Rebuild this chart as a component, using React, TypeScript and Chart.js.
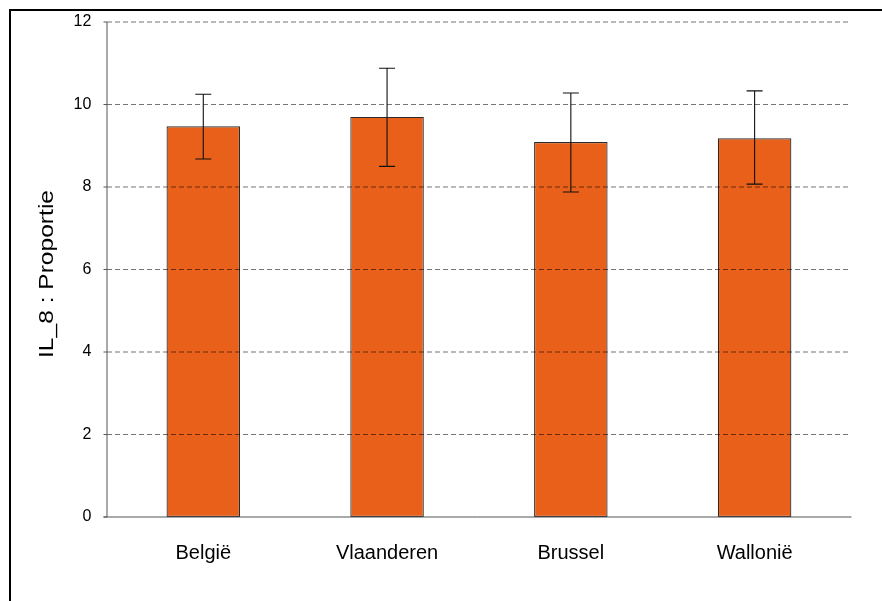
import React, { useEffect, useRef } from "react";
import { Chart, registerables } from "chart.js";

Chart.register(...registerables);

const categories = ["België", "Vlaanderen", "Brussel", "Wallonië"];
const values = [9.47, 9.7, 9.09, 9.18];
const errLow = [8.68, 8.5, 7.88, 8.07];
const errHigh = [10.25, 10.88, 10.28, 10.33];
const yTicks = [0, 2, 4, 6, 8, 10, 12];
const yTitle = "IL_8 : Proportie";

const FONT = "'Liberation Sans', Arial, Helvetica, sans-serif";

const decorPlugin = {
  id: "decor",
  afterDatasetsDraw(chart: any) {
    const ctx = chart.ctx;
    const xs = chart.scales.x;
    const ys = chart.scales.y;
    const axisX = 107;
    const gridRight = 848;
    const axisRight = 851.5;
    ctx.save();
    // grid lines (drawn over bars)
    ctx.strokeStyle = "rgba(0,0,0,0.55)";
    ctx.lineWidth = 1;
    ctx.setLineDash([5, 3]);
    yTicks.forEach((t) => {
      if (t === 0) return;
      const y = ys.getPixelForValue(t);
      ctx.beginPath();
      ctx.moveTo(axisX, y);
      ctx.lineTo(gridRight, y);
      ctx.stroke();
    });
    ctx.setLineDash([]);
    // error bars
    ctx.strokeStyle = "#111";
    ctx.lineWidth = 1.1;
    categories.forEach((_, i) => {
      const x = xs.getPixelForValue(i);
      const yl = ys.getPixelForValue(errLow[i]);
      const yh = ys.getPixelForValue(errHigh[i]);
      ctx.beginPath();
      ctx.moveTo(x, yl);
      ctx.lineTo(x, yh);
      ctx.moveTo(x - 8, yl);
      ctx.lineTo(x + 8, yl);
      ctx.moveTo(x - 8, yh);
      ctx.lineTo(x + 8, yh);
      ctx.stroke();
    });
    // axes
    ctx.strokeStyle = "#555";
    ctx.lineWidth = 1;
    const y0 = ys.getPixelForValue(0);
    const yTop = ys.getPixelForValue(12);
    ctx.beginPath();
    ctx.moveTo(axisX, yTop);
    ctx.lineTo(axisX, y0);
    ctx.moveTo(axisX - 3.5, y0);
    ctx.lineTo(axisRight, y0);
    yTicks.forEach((t) => {
      const y = ys.getPixelForValue(t);
      ctx.moveTo(axisX - 3.5, y);
      ctx.lineTo(axisX, y);
    });
    ctx.stroke();
    // y axis title
    ctx.fillStyle = "#000";
    ctx.font = "21px " + FONT;
    const w = ctx.measureText(yTitle).width;
    ctx.translate(53, 274);
    ctx.rotate(-Math.PI / 2);
    ctx.scale(168 / w, 1);
    ctx.textAlign = "center";
    ctx.textBaseline = "alphabetic";
    ctx.fillText(yTitle, 0, 0);
    ctx.restore();
    // frame
    ctx.save();
    ctx.fillStyle = "#000";
    ctx.fillRect(9, 9, 873, 2);
    ctx.fillRect(9, 9, 2, 592);
    ctx.restore();
  },
};

export default function App() {
  const ref = useRef<HTMLCanvasElement | null>(null);
  useEffect(() => {
    const canvas = ref.current;
    if (!canvas) return;
    const chart = new Chart(canvas, {
      type: "bar",
      data: {
        labels: categories,
        datasets: [
          {
            data: values,
            backgroundColor: "#E8601A",
            borderColor: "#2a2a2a",
            borderWidth: 1.2,
            borderSkipped: false,
            barPercentage: 0.4,
            categoryPercentage: 1,
          },
        ],
      },
      options: {
        animation: false,
        responsive: false,
        maintainAspectRatio: false,
        events: [],
        layout: { padding: { left: 0, top: 22, right: 35.5, bottom: 0 } },
        plugins: {
          legend: { display: false },
          tooltip: { enabled: false },
          title: { display: false },
        },
        scales: {
          x: {
            type: "category",
            offset: true,
            grid: { display: false },
            border: { display: false },
            ticks: {
              color: "#000",
              font: { family: FONT, size: 20 },
              padding: 16,
              maxRotation: 0,
              autoSkip: false,
            },
            afterFit(scale: any) {
              scale.height = 84;
            },
          },
          y: {
            min: 0,
            max: 12,
            grid: { display: false },
            border: { display: false },
            ticks: {
              stepSize: 2,
              color: "#000",
              font: { family: FONT, size: 16 },
              padding: 12,
            },
            afterFit(scale: any) {
              scale.width = 111.4;
            },
          },
        },
      },
      plugins: [decorPlugin],
    });
    return () => chart.destroy();
  }, []);
  return (
    <div style={{ position: "absolute", left: 0, top: 0, width: 882, height: 601, background: "#fff" }}>
      <canvas ref={ref} width={882} height={601} style={{ width: 882, height: 601, display: "block" }} />
    </div>
  );
}
